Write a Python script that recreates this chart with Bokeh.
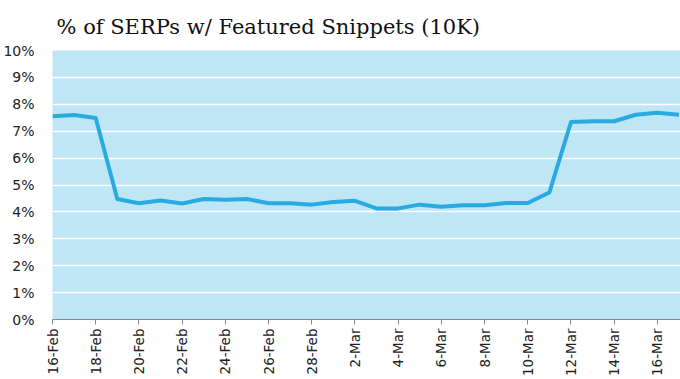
import math
from bokeh.plotting import figure
from bokeh.models import Range1d, FixedTicker
from bokeh.embed import file_html
from bokeh.resources import INLINE

dates = ["16-Feb", "17-Feb", "18-Feb", "19-Feb", "20-Feb", "21-Feb", "22-Feb", "23-Feb",
         "24-Feb", "25-Feb", "26-Feb", "27-Feb", "28-Feb", "1-Mar", "2-Mar", "3-Mar",
         "4-Mar", "5-Mar", "6-Mar", "7-Mar", "8-Mar", "9-Mar", "10-Mar", "11-Mar",
         "12-Mar", "13-Mar", "14-Mar", "15-Mar", "16-Mar", "17-Mar"]
pct = [7.56, 7.60, 7.49, 4.48, 4.32, 4.42, 4.31, 4.48, 4.45, 4.48, 4.32, 4.32, 4.27, 4.37,
       4.41, 4.13, 4.13, 4.27, 4.19, 4.25, 4.25, 4.33, 4.33, 4.72, 7.34, 7.37, 7.37, 7.61,
       7.69, 7.61]
y_ticks = [0, 1, 2, 3, 4, 5, 6, 7, 8, 9, 10]
title_text = "% of SERPs w/ Featured Snippets (10K)"

xs = list(range(len(dates)))

p = figure(width=680, height=379, output_backend="svg", toolbar_location=None,
           x_range=Range1d(0, len(dates) - 1 + 0.07), y_range=Range1d(0, 10),
           min_border_left=51, min_border_right=0, min_border_top=0, min_border_bottom=60)

p.title.text = title_text
p.title.text_font = "DejaVu Serif"
p.title.text_font_size = "21px"
p.title.text_font_style = "normal"
p.title.text_color = "#111111"
p.title.align = "left"
p.title.offset = 4
p.title.standoff = 24

p.background_fill_color = "#BEE6F5"
p.border_fill_color = "white"
p.outline_line_color = None

p.line(xs, pct, line_color="#29ABE2", line_width=4, line_join="round")

p.xgrid.grid_line_color = None
p.ygrid.grid_line_color = "white"
p.ygrid.grid_line_width = 1.5
p.ygrid.ticker = FixedTicker(ticks=y_ticks)

p.yaxis.ticker = FixedTicker(ticks=y_ticks)
p.yaxis.major_label_overrides = {t: f"{t}%" for t in y_ticks}
p.yaxis.axis_line_color = None
p.yaxis.major_tick_line_color = None
p.yaxis.minor_tick_line_color = None
p.yaxis.major_label_text_font = "DejaVu Sans"
p.yaxis.major_label_text_font_size = "14px"
p.yaxis.major_label_text_color = "#222222"
p.yaxis.major_label_standoff = 12

x_tick_pos = xs[::2]
p.xaxis.ticker = FixedTicker(ticks=x_tick_pos)
p.xaxis.major_label_overrides = {i: dates[i] for i in x_tick_pos}
p.xaxis.major_label_orientation = math.pi / 2
p.xaxis.axis_line_color = "#888888"
p.xaxis.major_tick_line_color = "#888888"
p.xaxis.major_tick_in = 0
p.xaxis.major_tick_out = 5
p.xaxis.minor_tick_line_color = None
p.xaxis.major_label_text_font = "DejaVu Sans"
p.xaxis.major_label_text_font_size = "13.5px"
p.xaxis.major_label_text_color = "#222222"
p.xaxis.major_label_standoff = 4

open("out.html", "w").write(file_html(p, INLINE))
